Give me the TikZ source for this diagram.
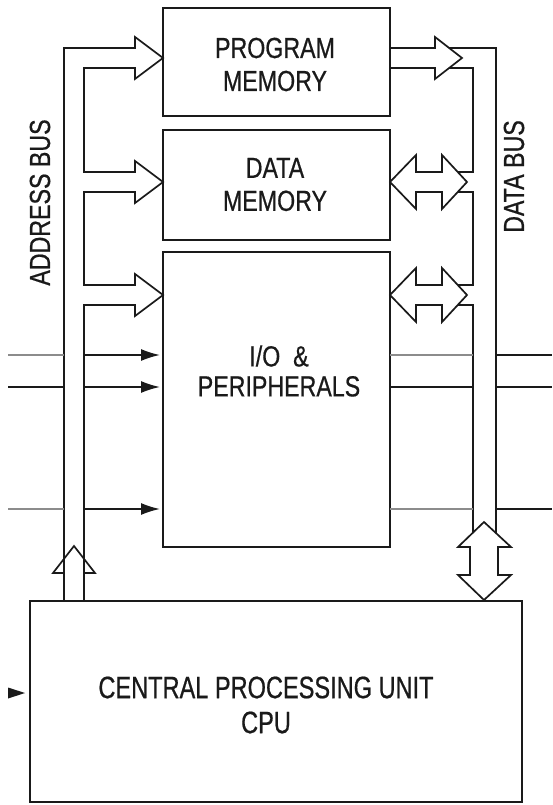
\documentclass[tikz,border=0pt]{standalone}
\usepackage{fontspec}
\newfontfamily\boxfont[FakeStretch=0.8,FakeBold=0.6]{Liberation Sans}
\newfontfamily\cpufont[FakeStretch=0.76,FakeBold=0.6]{Liberation Sans}
\usetikzlibrary{arrows.meta}
\definecolor{ink}{HTML}{1A1A1A}
\definecolor{lgray}{HTML}{8C8C8C}
\tikzset{
  unitbox/.style={draw=ink, line width=1.8pt, inner sep=0pt, outer sep=0pt},
  bus/.style={draw=ink, line width=1.7pt, line join=miter},
  wire/.style={draw=ink, line width=1.7pt},
  graywire/.style={draw=lgray, line width=1.7pt},
  sig/.style={wire, -{Latex[length=19pt,width=12pt]}},
  lbl/.style={font=\boxfont\fontsize{29}{33}\selectfont, text=ink, align=center, inner sep=0pt},
  cpulbl/.style={font=\cpufont\fontsize{31}{35}\selectfont, text=ink, align=center, inner sep=0pt},
}
\begin{document}
\begin{tikzpicture}[x=1pt,y=-1pt]
\useasboundingbox (0,0) rectangle (552,805);
\fill[white] (0,0) rectangle (552,805);

% boxes
\node[unitbox, minimum width=227pt, minimum height=108pt] (pm) at (276.5,62) {};
\node[unitbox, minimum width=227pt, minimum height=110pt] (dm) at (276.5,185) {};
\node[unitbox, minimum width=227pt, minimum height=295pt] (io) at (276.5,399.5) {};
\node[unitbox, minimum width=492pt, minimum height=201pt] (cpu) at (276,701.5) {};

% labels
\node[lbl] (pmt) at (275,64.5) {PROGRAM\\MEMORY};
\node[lbl] (dmt) at (275,184.5) {DATA\\MEMORY};
\node[lbl, font=\boxfont\fontsize{29}{30}\selectfont] (iot) at (279,371) {I/O\ \ \&\\PERIPHERALS};
\node[lbl, rotate=90] (abt) at (40,202.5) {ADDRESS BUS};
\node[lbl, rotate=90] (dbt) at (514,176.5) {DATA BUS};
\node[cpulbl] (cput) at (266,705) {CENTRAL PROCESSING UNIT\\CPU};

% address bus
\draw[bus] (64,601) -- (64,48) -- (135,48) -- (135,37) -- (163,58) -- (135,79) -- (135,68)
  -- (84,68) -- (84,172) -- (135,172) -- (135,161) -- (163,182) -- (135,203) -- (135,192)
  -- (84,192) -- (84,285) -- (135,285) -- (135,274) -- (163,295) -- (135,316) -- (135,305)
  -- (84,305) -- (84,601);
\draw[bus] (64,573) -- (53,573) -- (74,546) -- (95,573) -- (84,573);

% data bus
\draw[bus] (390,48) -- (435,48) -- (435,37) -- (462,58) -- (435,79) -- (435,68) -- (390,68);
\draw[bus] (449,48) -- (496,48) -- (496,533);
\draw[bus] (449,68) -- (473,68) -- (473,172) -- (458,172);
\draw[bus] (458,192) -- (473,192) -- (473,285) -- (458,285);
\draw[bus] (458,305) -- (473,305) -- (473,533);
\draw[bus] (390,182) -- (416,155) -- (416,172) -- (442,172) -- (442,155) -- (467,182)
  -- (442,209) -- (442,192) -- (416,192) -- (416,209) -- cycle;
\draw[bus] (390,295) -- (416,268) -- (416,285) -- (442,285) -- (442,268) -- (467,295)
  -- (442,322) -- (442,305) -- (416,305) -- (416,322) -- cycle;
\draw[bus] (484,522) -- (511,547) -- (498,547) -- (498,575) -- (511,575) -- (484,600)
  -- (458,575) -- (470,575) -- (470,547) -- (458,547) -- cycle;

% signal lines
\draw[graywire] (8,355) -- (64,355);
\draw[sig] (84,355) -- (160,355);
\draw[graywire] (390,355) -- (473,355);
\draw[wire] (496,355) -- (552,355);

\draw[wire] (8,387) -- (64,387);
\draw[sig] (84,387) -- (160,387);
\draw[wire] (390,387) -- (473,387);
\draw[wire] (496,387) -- (552,387);

\draw[graywire] (8,509) -- (64,509);
\draw[sig] (84,509) -- (160,509);
\draw[graywire] (390,509) -- (473,509);
\draw[wire] (496,509) -- (552,509);

% cpu input
\coordinate (cin) at (8,693);
\fill[ink] (cin) ++(0,-5.5) -- (25,693) -- (8,698.5) -- cycle;
\end{tikzpicture}
\end{document}
